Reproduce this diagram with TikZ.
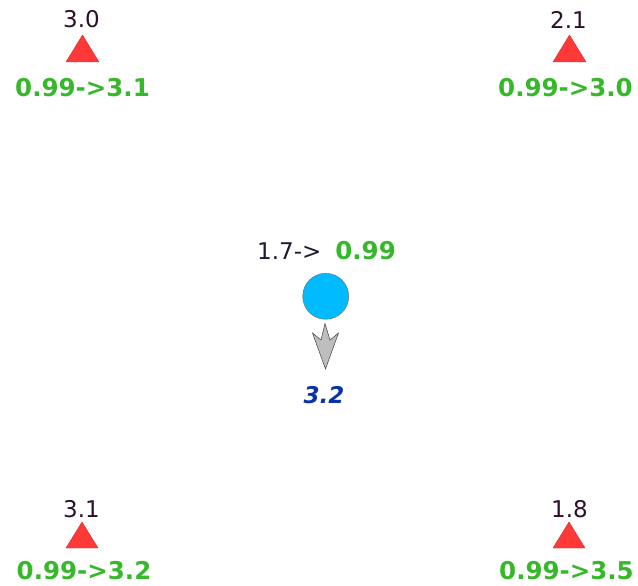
\documentclass[tikz,border=0pt]{standalone}
\usepackage{fontspec}
\setmainfont{DejaVu Sans}
\definecolor{darklab}{HTML}{2E0F2A}
\definecolor{centrelab}{HTML}{1A1A30}
\definecolor{greenlab}{HTML}{36B82A}
\definecolor{trired}{HTML}{FF3838}
\definecolor{cyanfill}{HTML}{00BBFF}
\definecolor{bluelab}{HTML}{0A33A8}
\definecolor{arrowgray}{HTML}{BEBEBE}
\begin{document}
\begin{tikzpicture}[x=1pt,y=-1pt,
  vallab/.style={inner sep=0pt,text=darklab,font=\fontsize{23}{23}\selectfont},
  grnlab/.style={inner sep=0pt,text=greenlab,font=\bfseries\fontsize{24.5}{24.5}\selectfont},
  tri/.style={fill=trired,draw=trired!80!black,line width=0.4pt},
  bluelab/.style={inner sep=0pt,text=bluelab,font=\bfseries\itshape\fontsize{23}{23}\selectfont}]
\useasboundingbox (0,0) rectangle (638,586);
% top-left
\node[vallab] (tlv) at (81.5,19.5) {3.0};
\draw[tri] (82.5,35) -- (99,62) -- (66,62) -- cycle;
\node[grnlab] (tlg) at (82.5,87.5) {0.99->3.1};
% top-right
\node[vallab] (trv) at (568.5,19.5) {2.1};
\draw[tri] (569.5,35) -- (586,62) -- (553,62) -- cycle;
\node[grnlab,anchor=west] (trg) at (498,87.5) {0.99->3.0};
% bottom-left
\node[vallab] (blv) at (81.5,509.5) {3.1};
\draw[tri] (82,522) -- (98,548) -- (66,548) -- cycle;
\node[grnlab] (blg) at (84,571) {0.99->3.2};
% bottom-right
\node[vallab] (brv) at (569.5,509.5) {1.8};
\draw[tri] (569,522) -- (585,548) -- (553,548) -- cycle;
\node[grnlab,anchor=west] (brg) at (499,571) {0.99->3.5};
% centre
\node[inner sep=0pt,anchor=west] (clab) at (257,250.5)
  {\textcolor{centrelab}{\fontsize{23}{23}\selectfont 1.7->}\hspace{14pt}\textcolor{greenlab}{\bfseries\fontsize{24.5}{24.5}\selectfont 0.99}};
\node[circle,minimum size=46pt,inner sep=0pt,fill=cyanfill,draw=gray!80!black,line width=0.4pt] (circ) at (325.7,296.3) {};
\draw[fill=arrowgray,draw=black!75,line width=0.5pt,line join=miter]
  (325,323.5) -- (330,340) -- (338.5,333) -- (325.5,369) -- (312.5,333) -- (321,340) -- cycle;
\node[bluelab] (res) at (324,395) {3.2};
\end{tikzpicture}
\end{document}
